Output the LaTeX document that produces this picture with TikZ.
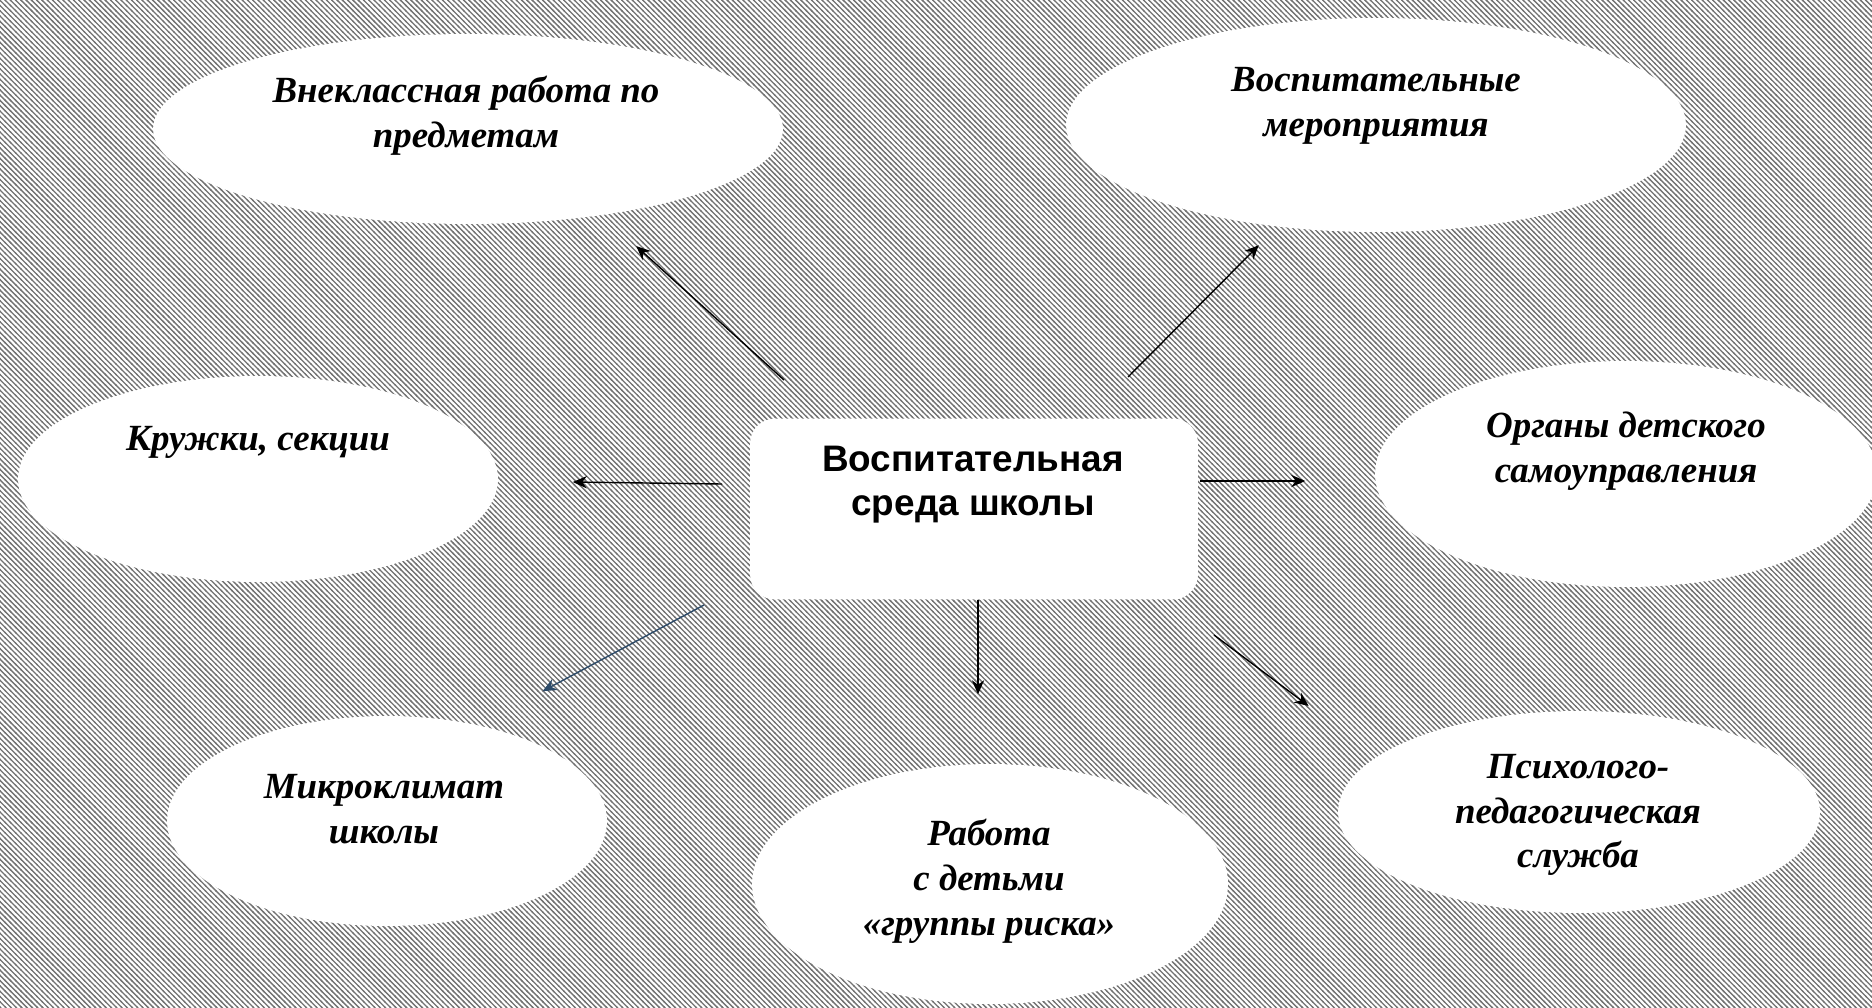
\documentclass[tikz,border=0pt]{standalone}
\usepackage{fontspec}
\setmainfont{Liberation Serif}
\setsansfont{Liberation Sans}
\usetikzlibrary{shapes.geometric,arrows.meta,patterns.meta}
\definecolor{slate}{RGB}{45,75,105}

\tikzdeclarepattern{
  name=hatch,
  type=uncolored,
  bottom left={(-.5pt,-.5pt)},
  top right={(3.5pt,3.5pt)},
  tile size={(3pt,3pt)},
  code={\draw[line width=.75pt] (-.5pt,3.5pt) -- (3.5pt,-.5pt);}
}

\begin{document}
\begin{tikzpicture}[x=0.02cm,y=-0.02cm,shorten >=1pt,->,>={Stealth[length=8pt,width=7pt]},line width=0.8pt]
	\tikzstyle{oval}=[ellipse,fill=white,inner sep=0pt]
	\tikzstyle{otxt}=[align=center,font=\fontsize{21}{25.5}\selectfont\bfseries\itshape]
	\tikzstyle{ctxt}=[align=center,font=\fontsize{21}{25}\selectfont\sffamily\bfseries]

	% background
	\useasboundingbox (0,0) rectangle (1872,1007);
	\clip (0,0) rectangle (1872,1007);
	\fill[white] (0,0) rectangle (1872,1007);
	\fill[pattern=hatch,pattern color=black!55] (0,0) rectangle (1872,1007);

	% ovals
	\node[oval,minimum width=12.6cm,minimum height=3.8cm] (vneklass) at (468,129) {};
	\node[oval,minimum width=12.4cm,minimum height=4.28cm] (vosp) at (1376,125) {};
	\node[oval,minimum width=9.6cm,minimum height=4.12cm] (kruzhki) at (258,479) {};
	\node[oval,minimum width=10.04cm,minimum height=4.52cm] (organy) at (1626,474) {};
	\node[oval,minimum width=8.8cm,minimum height=4.2cm] (mikro) at (387,821) {};
	\node[oval,minimum width=9.52cm,minimum height=4.8cm] (riska) at (990,884) {};
	\node[oval,minimum width=9.64cm,minimum height=4.04cm] (psiho) at (1579,812) {};
	\node[fill=white,rounded corners=0.5cm,minimum width=8.96cm,minimum height=3.62cm] (centre) at (974,509) {};

	% texts
	\node[otxt] (vneklassT) at (466,116) {Внеклассная работа по\\предметам};
	\node[otxt] (vospT) at (1376,106) {Воспитательные\\мероприятия};
	\node[otxt] (kruzhkiT) at (258,442) {Кружки, секции};
	\node[otxt] (organyT) at (1626,451) {Органы детского\\самоуправления};
	\node[otxt] (mikroT) at (384,809) {Микроклимат\\школы};
	\node[otxt] (riskaT) at (989,881) {Работа\\с детьми\\«группы риска»};
	\node[otxt] (psihoT) at (1578,815) {Психолого-\\педагогическая\\служба};
	\node[ctxt] (centreT) at (973,485) {Воспитательная\\среда школы};

	% arrows
	\coordinate (s1) at (784,380); \coordinate (e1) at (635,245);
	\coordinate (s2) at (1128,377); \coordinate (e2) at (1260,244);
	\coordinate (s3) at (722,484); \coordinate (e3) at (571,482);
	\coordinate (s4) at (1200,481); \coordinate (e4) at (1307,481);
	\coordinate (s5) at (704,605); \coordinate (e5) at (541,692);
	\coordinate (s6) at (978,600); \coordinate (e6) at (978,696);
	\coordinate (s7) at (1214,635); \coordinate (e7) at (1310,707);

	\draw (s1) -- (e1);
	\draw (s2) -- (e2);
	\draw (s3) -- (e3);
	\draw (s4) -- (e4);
	\draw[slate] (s5) -- (e5);
	\draw (s6) -- (e6);
	\draw (s7) -- (e7);
\end{tikzpicture}
\end{document}
